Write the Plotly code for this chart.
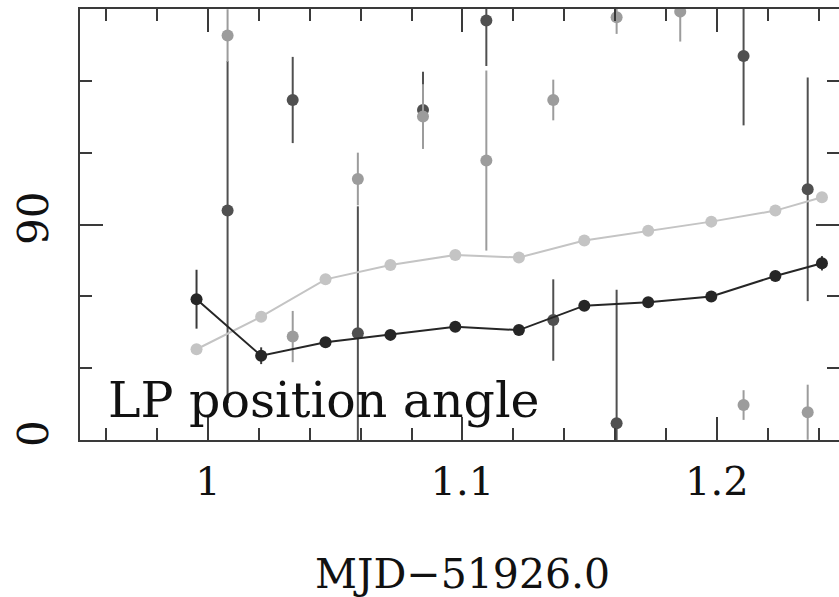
import plotly.graph_objects as go

# Black line series (LP position angle, main)
line_x = [0.9955, 1.0209, 1.0462, 1.0717, 1.0972, 1.1222, 1.1479, 1.1730, 1.1978, 1.2230, 1.2413]
black_y = [58.8, 35.2, 40.8, 43.9, 47.3, 45.9, 56.1, 57.5, 59.9, 68.5, 73.8]
black_err = [12.3, 3.5, 1.5, 1.5, 1.5, 1.5, 1.5, 1.5, 1.5, 1.5, 3.0]
# Light grey line series
light_y = [37.9, 51.5, 67.1, 73.1, 77.3, 76.2, 83.3, 87.4, 91.2, 95.8, 101.4]

# Dark grey scatter with error bars
dark_x = [1.0077, 1.0333, 1.0589, 1.0845, 1.1094, 1.1357, 1.1606, 1.2105, 1.2357]
dark_y = [95.8, 142.0, 44.6, 137.8, 175.2, 50.1, 7.0, 160.4, 104.7]
dark_err_plus = [62.5, 18.0, 53.0, 16.0, 19.0, 17.0, 55.7, 29.0, 46.7]
dark_err_minus = [80.3, 18.0, 53.0, 16.0, 19.0, 17.0, 55.7, 29.0, 46.7]

# Medium grey scatter with error bars
mid_x = [1.0077, 1.0333, 1.0589, 1.0845, 1.1094, 1.1357, 1.1606, 1.1856, 1.2105, 1.2357]
mid_y = [168.9, 43.2, 109.0, 135.1, 116.7, 142.0, 176.6, 178.9, 14.6, 11.6]
mid_err = [11.0, 10.7, 11.0, 13.5, 37.6, 8.5, 7.0, 12.5, 6.2, 11.5]

x_tickvals = [1.0, 1.1, 1.2]
x_ticktext = ["1", "1.1", "1.2"]
y_tickvals = [0, 90, 180]
y_ticktext = ["0", "90", ""]

FONT = "DejaVu Serif"
AX = "#3a3a3a"

fig = go.Figure()

fig.add_trace(go.Scatter(
    x=dark_x, y=dark_y, mode="markers",
    marker=dict(color="#505050", size=12),
    error_y=dict(type="data", array=dark_err_plus, arrayminus=dark_err_minus,
                 symmetric=False, color="#505050", thickness=2, width=0),
    showlegend=False))

fig.add_trace(go.Scatter(
    x=mid_x, y=mid_y, mode="markers",
    marker=dict(color="#9c9c9c", size=12),
    error_y=dict(type="data", array=mid_err, color="#9c9c9c", thickness=2, width=0),
    showlegend=False))

fig.add_trace(go.Scatter(
    x=line_x, y=light_y, mode="lines+markers",
    line=dict(color="#c4c4c4", width=2),
    marker=dict(color="#c4c4c4", size=12),
    showlegend=False))

fig.add_trace(go.Scatter(
    x=line_x, y=black_y, mode="lines+markers",
    line=dict(color="#262626", width=2),
    marker=dict(color="#262626", size=12),
    error_y=dict(type="data", array=black_err, color="#3a3a3a", thickness=2, width=0),
    showlegend=False))

fig.add_annotation(
    x=0.9600, y=16.4, xref="x", yref="y", xanchor="left", yanchor="middle",
    text="LP position angle", showarrow=False,
    font=dict(family=FONT, size=49, color="#111111"))

fig.add_annotation(
    x=1.1, y=-0.31, xref="x", yref="paper", xanchor="center", yanchor="middle",
    text="MJD\u221251926.0", showarrow=False,
    font=dict(family=FONT, size=41, color="#111111"))

fig.update_xaxes(
    range=[0.9497, 1.248], tickmode="array", tickvals=x_tickvals, ticktext=x_ticktext,
    ticks="inside", ticklen=23, tickwidth=2, tickcolor=AX,
    showline=True, linewidth=2, linecolor=AX, mirror="ticks",
    showgrid=False, zeroline=False, automargin=False,
    tickfont=dict(family=FONT, size=40, color="#111111"),
    ticklabelstandoff=5,
    minor=dict(tickmode="linear", tick0=1.0, dtick=0.02, ticks="inside",
               ticklen=12, tickwidth=2, tickcolor=AX, showgrid=False))

fig.update_yaxes(
    range=[0, 180], tickmode="array", tickvals=y_tickvals, ticktext=y_ticktext,
    ticks="inside", ticklen=23, tickwidth=2, tickcolor=AX,
    showline=True, linewidth=2, linecolor=AX, mirror="ticks",
    showgrid=False, zeroline=False, tickangle=-90, automargin=False,
    tickfont=dict(family=FONT, size=42, color="#111111"),
    ticklabelstandoff=13,
    minor=dict(tickmode="linear", tick0=0, dtick=30, ticks="inside",
               ticklen=12, tickwidth=2, tickcolor=AX, showgrid=False))

fig.update_layout(
    width=839, height=597,
    margin=dict(l=80, r=0, t=9, b=157),
    plot_bgcolor="white", paper_bgcolor="white")

fig.write_html("out.html")
